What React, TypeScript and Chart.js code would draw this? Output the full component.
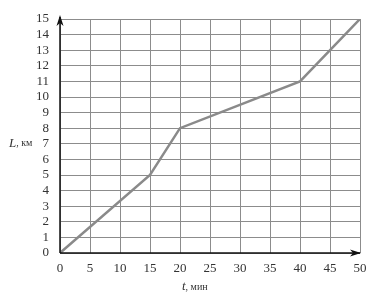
import React, { useEffect, useRef } from "react";
import { Chart, registerables } from "chart.js";

Chart.register(...registerables);

const times = [0, 15, 20, 40, 50];
const distances = [0, 5, 8, 11, 15];
const xTicks = [0, 5, 10, 15, 20, 25, 30, 35, 40, 45, 50];
const yTicks = [0, 1, 2, 3, 4, 5, 6, 7, 8, 9, 10, 11, 12, 13, 14, 15];
const yMax = 15;
const xMax = 50;

const FONT = "'Liberation Serif', 'DejaVu Serif', serif";

const axesPlugin = {
  id: "axesArrows",
  afterDraw(chart: any) {
    const { ctx, chartArea, scales } = chart;
    const x = scales.x;
    const y = scales.y;
    const x0 = x.getPixelForValue(0);
    const y0 = y.getPixelForValue(0);
    ctx.save();
    ctx.strokeStyle = "#111";
    ctx.fillStyle = "#111";
    ctx.lineWidth = 1.5;
    // y axis
    ctx.beginPath();
    ctx.moveTo(x0, y0);
    ctx.lineTo(x0, chartArea.top - 2);
    ctx.stroke();
    ctx.beginPath();
    ctx.moveTo(x0, chartArea.top - 4);
    ctx.lineTo(x0 - 3.5, chartArea.top + 7);
    ctx.lineTo(x0, chartArea.top + 4);
    ctx.lineTo(x0 + 3.5, chartArea.top + 7);
    ctx.closePath();
    ctx.fill();
    // x axis
    ctx.beginPath();
    ctx.moveTo(x0, y0);
    ctx.lineTo(chartArea.right, y0);
    ctx.stroke();
    ctx.beginPath();
    ctx.moveTo(chartArea.right + 1, y0);
    ctx.lineTo(chartArea.right - 10, y0 - 3.5);
    ctx.lineTo(chartArea.right - 7, y0);
    ctx.lineTo(chartArea.right - 10, y0 + 3.5);
    ctx.closePath();
    ctx.fill();

    // axis titles
    ctx.fillStyle = "#333";
    ctx.textBaseline = "middle";
    const ly = y.getPixelForValue(7);
    ctx.font = "italic 13px " + FONT;
    ctx.textAlign = "left";
    ctx.fillText("L", 9, ly);
    const lw = ctx.measureText("L").width;
    ctx.font = "10px " + FONT;
    ctx.fillText(", км", 9 + lw, ly);

    const tx = 182;
    const ty = 287;
    ctx.font = "italic 13px " + FONT;
    ctx.fillText("t", tx, ty);
    const tw = ctx.measureText("t").width;
    ctx.font = "10px " + FONT;
    ctx.fillText(", мин", tx + tw, ty);
    ctx.restore();
  },
};

export default function App() {
  const ref = useRef<HTMLCanvasElement | null>(null);

  useEffect(() => {
    if (!ref.current) return;
    const chart = new Chart(ref.current, {
      type: "line",
      data: {
        datasets: [
          {
            data: times.map((t, i) => ({ x: t, y: distances[i] })),
            borderColor: "#8a8a8a",
            borderWidth: 2.5,
            pointRadius: 0,
            tension: 0,
            fill: false,
          },
        ],
      },
      options: {
        animation: false,
        responsive: false,
        maintainAspectRatio: false,
        events: [],
        layout: { padding: { left: 0, right: 26, top: 19, bottom: 0 } },
        plugins: {
          legend: { display: false },
          tooltip: { enabled: false },
        },
        scales: {
          x: {
            type: "linear",
            min: 0,
            max: xMax,
            afterBuildTicks: (s: any) => {
              s.ticks = xTicks.map((v) => ({ value: v }));
            },
            afterFit: (s: any) => {
              s.height = 46;
            },
            border: { display: false },
            grid: { color: "#8c8c8c", lineWidth: 1, drawTicks: false },
            ticks: {
              autoSkip: false,
              padding: 8,
              color: "#333",
              font: { family: FONT, size: 13 },
              maxRotation: 0,
            },
          },
          y: {
            type: "linear",
            min: 0,
            max: yMax,
            afterBuildTicks: (s: any) => {
              s.ticks = yTicks.map((v) => ({ value: v }));
            },
            afterFit: (s: any) => {
              s.width = 60;
            },
            border: { display: false },
            grid: { color: "#8c8c8c", lineWidth: 1, drawTicks: false },
            ticks: {
              autoSkip: false,
              padding: 11,
              color: "#333",
              font: { family: FONT, size: 13 },
            },
          },
        },
      },
      plugins: [axesPlugin],
    });
    return () => chart.destroy();
  }, []);

  return (
    <div style={{ position: "absolute", left: 0, top: 0, width: 386, height: 299, background: "#fff" }}>
      <canvas ref={ref} width={386} height={299} style={{ width: 386, height: 299 }} />
    </div>
  );
}
